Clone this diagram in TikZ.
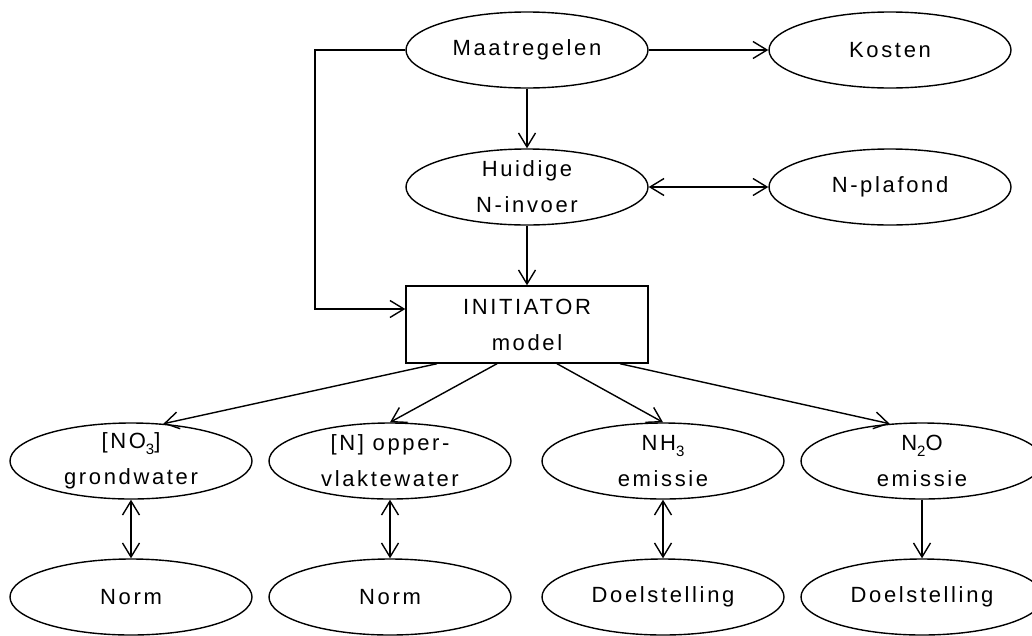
\documentclass[tikz,border=0pt]{standalone}
\usepackage{fontspec}
\setmainfont{Liberation Sans}[LetterSpace=12]
\usetikzlibrary{arrows.meta,shapes.geometric,calc}
\newcommand{\subs}[1]{\raisebox{-6pt}{\fontsize{15}{15}\selectfont #1}}
\tikzset{
  every node/.style={font=\fontsize{22}{36}\selectfont},
  oval/.style={ellipse,draw,line width=1.4pt,minimum width=242pt,minimum height=76pt,inner sep=0pt,align=center},
  oval2/.style={oval,inner ysep=-10pt},
  modelbox/.style={rectangle,draw,line width=1.4pt,minimum width=242pt,minimum height=77pt,inner sep=0pt,align=center},
  conn/.style={line width=1.4pt},
  arr/.style={conn,-{Straight Barb[length=14pt,width=17pt]}},
  darr/.style={conn,{Straight Barb[length=14pt,width=17pt]}-{Straight Barb[length=14pt,width=17pt]}}
}
\begin{document}
\begin{tikzpicture}[x=1pt,y=1pt]
\useasboundingbox (0,0) rectangle (1032,-635);
\node[oval] (maat) at (527,-50) {Maatregelen};
\node[oval] (kost) at (890,-50) {Kosten};
\node[oval2] (huid) at (527,-187) {Huidige\\N-invoer};
\node[oval] (plaf) at (890,-187) {N-plafond};
\node[modelbox] (init) at (527,-324.5) {INITIATOR\\model};
\node[oval2] (no3) at (131,-461) {[NO\subs{3}]\\grondwater};
\node[oval2] (opp) at (390,-461) {[N] opper-\\vlaktewater};
\node[oval2] (nh3) at (663,-461) {NH\subs{3}\\emissie};
\node[oval2] (n2o) at (922,-461) {N\subs{2}O\\emissie};
\node[oval] (norm1) at (131,-597) {Norm};
\node[oval] (norm2) at (390,-597) {Norm};
\node[oval] (doel1) at (663,-597) {Doelstelling};
\node[oval] (doel2) at (922,-597) {Doelstelling};
\coordinate (c1) at (315,-50);
\coordinate (c2) at (315,-309);
\draw[arr] (maat.east) -- (kost.west);
\draw[arr] (maat.south) -- (huid.north);
\draw[darr] (huid.east) -- (plaf.west);
\draw[arr] (huid.south) -- (init.north);
\draw[arr] (maat.west) -- (c1) -- (c2) -- (c2 -| init.west);
\draw[arr] ($(init.south)+(-90,0)$) -- (no3.49);
\draw[arr] ($(init.south)+(-30,0)$) -- (opp.north);
\draw[arr] ($(init.south)+(30,0)$) -- (nh3.north);
\draw[arr] ($(init.south)+(93,0)$) -- (n2o.131);
\draw[darr] (no3.south) -- (norm1.north);
\draw[darr] (opp.south) -- (norm2.north);
\draw[darr] (nh3.south) -- (doel1.north);
\draw[arr] (n2o.south) -- (doel2.north);
\end{tikzpicture}
\end{document}
